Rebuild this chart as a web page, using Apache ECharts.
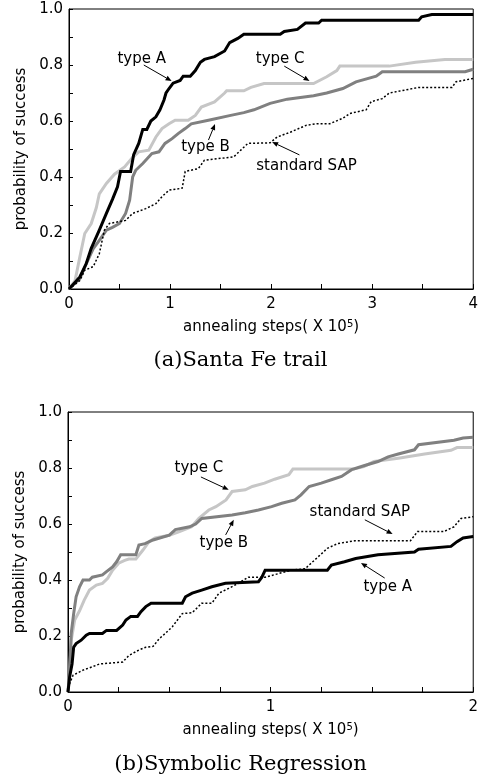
<!DOCTYPE html>
<html><head><meta charset="utf-8">
<script src="https://cdn.jsdelivr.net/npm/echarts@6/dist/echarts.min.js"></script>
<style>html,body{margin:0;padding:0;background:#fff}#c{width:481px;height:780px}</style>
</head><body><div id="c"></div>
<script>
// ---------- (a) Santa Fe trail ----------
const santaTypeA = [[0,0],[0.05,0.02],[0.107,0.043],[0.17,0.09],[0.22,0.145],[0.30,0.21],[0.37,0.27],[0.43,0.32],[0.48,0.365],[0.51,0.42],[0.61,0.42],[0.64,0.48],[0.69,0.52],[0.73,0.57],[0.77,0.57],[0.81,0.60],[0.86,0.615],[0.90,0.64],[0.94,0.675],[0.96,0.70],[0.99,0.716],[1.03,0.735],[1.10,0.745],[1.13,0.76],[1.20,0.76],[1.25,0.78],[1.30,0.81],[1.34,0.82],[1.44,0.83],[1.54,0.85],[1.59,0.88],[1.67,0.895],[1.73,0.91],[2.09,0.91],[2.13,0.92],[2.26,0.927],[2.34,0.95],[2.47,0.95],[2.50,0.96],[3.46,0.96],[3.49,0.972],[3.59,0.98],[4,0.98]];
const santaTypeB = [[0,0],[0.107,0.037],[0.17,0.09],[0.24,0.144],[0.30,0.174],[0.37,0.21],[0.43,0.22],[0.50,0.234],[0.56,0.27],[0.60,0.317],[0.63,0.40],[0.66,0.424],[0.73,0.448],[0.82,0.484],[0.89,0.49],[0.95,0.52],[1.02,0.537],[1.08,0.555],[1.15,0.573],[1.21,0.59],[1.38,0.603],[1.60,0.62],[1.73,0.63],[1.83,0.64],[1.99,0.663],[2.16,0.678],[2.42,0.69],[2.55,0.70],[2.71,0.716],[2.84,0.74],[3.04,0.76],[3.10,0.776],[3.92,0.776],[4,0.785]];
const santaTypeC = [[0,0],[0.06,0.03],[0.107,0.114],[0.156,0.198],[0.22,0.234],[0.27,0.29],[0.30,0.34],[0.37,0.377],[0.45,0.41],[0.55,0.436],[0.63,0.47],[0.69,0.49],[0.79,0.496],[0.86,0.543],[0.92,0.573],[0.99,0.59],[1.05,0.603],[1.18,0.603],[1.25,0.62],[1.31,0.65],[1.44,0.668],[1.54,0.70],[1.56,0.708],[1.73,0.708],[1.80,0.72],[1.93,0.734],[2.42,0.734],[2.55,0.758],[2.65,0.78],[2.68,0.796],[3.17,0.796],[3.43,0.81],[3.72,0.82],[4,0.82]];
const santaSAP = [[0,0],[0.107,0.03],[0.156,0.067],[0.24,0.08],[0.30,0.126],[0.35,0.21],[0.40,0.234],[0.56,0.245],[0.63,0.27],[0.76,0.287],[0.86,0.305],[0.92,0.33],[0.99,0.353],[1.12,0.36],[1.15,0.42],[1.28,0.43],[1.34,0.46],[1.63,0.472],[1.70,0.496],[1.77,0.52],[1.99,0.522],[2.06,0.543],[2.19,0.56],[2.35,0.585],[2.45,0.59],[2.58,0.59],[2.71,0.61],[2.78,0.627],[2.94,0.64],[2.99,0.669],[3.10,0.68],[3.17,0.70],[3.36,0.713],[3.46,0.72],[3.79,0.72],[3.83,0.74],[4,0.752]];

// ---------- (b) Symbolic Regression ----------
const symbTypeA = [[0,0],[0.008,0.054],[0.02,0.10],[0.028,0.16],[0.04,0.173],[0.065,0.185],[0.09,0.203],[0.106,0.209],[0.17,0.209],[0.19,0.22],[0.24,0.22],[0.27,0.239],[0.286,0.257],[0.31,0.27],[0.343,0.27],[0.36,0.287],[0.384,0.305],[0.41,0.317],[0.564,0.317],[0.58,0.34],[0.613,0.353],[0.66,0.364],[0.71,0.376],[0.777,0.388],[0.94,0.394],[0.957,0.41],[0.973,0.435],[1.28,0.435],[1.30,0.453],[1.365,0.465],[1.42,0.477],[1.53,0.49],[1.71,0.50],[1.73,0.51],[1.89,0.52],[1.92,0.537],[1.95,0.55],[2,0.555]];
const symbTypeB = [[0,0],[0.008,0.078],[0.016,0.21],[0.028,0.28],[0.04,0.34],[0.057,0.376],[0.074,0.40],[0.106,0.40],[0.12,0.41],[0.17,0.418],[0.19,0.43],[0.22,0.447],[0.24,0.465],[0.26,0.49],[0.335,0.49],[0.35,0.525],[0.38,0.53],[0.42,0.543],[0.50,0.56],[0.53,0.58],[0.60,0.59],[0.63,0.60],[0.66,0.62],[0.81,0.632],[0.875,0.64],[0.94,0.65],[1.005,0.662],[1.055,0.674],[1.12,0.686],[1.15,0.704],[1.19,0.734],[1.25,0.746],[1.30,0.758],[1.35,0.77],[1.40,0.794],[1.46,0.808],[1.53,0.823],[1.58,0.84],[1.63,0.85],[1.71,0.865],[1.73,0.883],[1.905,0.899],[1.95,0.907],[2,0.91]];
const symbTypeC = [[0,0],[0.008,0.066],[0.016,0.185],[0.033,0.257],[0.057,0.29],[0.08,0.328],[0.106,0.364],[0.14,0.382],[0.17,0.388],[0.196,0.406],[0.22,0.435],[0.25,0.46],[0.28,0.47],[0.30,0.475],[0.335,0.475],[0.37,0.507],[0.40,0.537],[0.43,0.55],[0.50,0.56],[0.55,0.573],[0.61,0.59],[0.646,0.62],[0.695,0.65],[0.73,0.662],[0.78,0.686],[0.81,0.716],[0.875,0.722],[0.91,0.734],[0.97,0.746],[1.02,0.76],[1.09,0.776],[1.11,0.796],[1.41,0.796],[1.46,0.805],[1.51,0.823],[1.63,0.835],[1.76,0.85],[1.89,0.863],[1.92,0.873],[2,0.873]];
const symbSAP = [[0,0],[0.008,0.03],[0.025,0.06],[0.074,0.078],[0.12,0.09],[0.155,0.10],[0.27,0.107],[0.30,0.13],[0.35,0.15],[0.384,0.16],[0.42,0.163],[0.45,0.19],[0.48,0.209],[0.515,0.233],[0.564,0.28],[0.613,0.283],[0.66,0.317],[0.71,0.317],[0.745,0.353],[0.793,0.37],[0.84,0.388],[0.89,0.41],[0.973,0.41],[1.04,0.423],[1.10,0.435],[1.17,0.44],[1.20,0.46],[1.235,0.483],[1.28,0.513],[1.33,0.53],[1.415,0.54],[1.69,0.54],[1.725,0.573],[1.855,0.573],[1.905,0.59],[1.94,0.62],[2,0.626]];

const captions = ['(a)Santa Fe trail', '(b)Symbolic Regression'];
const yAxisName = 'probability of success';
const xAxisName = 'annealing steps( X 10{sup|5})';

// annotations: [gridIndex, label, textX, textY, arrowFromX, arrowFromY, arrowToX, arrowToY] in data units
const annotations = [
  [0, 'type A', 0.72, 0.82, 0.74, 0.80, 1.015, 0.743],
  [0, 'type C', 2.09, 0.82, 2.13, 0.796, 2.38, 0.743],
  [0, 'type B', 1.35, 0.507, 1.38, 0.532, 1.445, 0.589],
  [0, 'standard SAP', 2.35, 0.44, 2.28, 0.479, 2.01, 0.525],
  [1, 'type C', 0.646, 0.80, 0.656, 0.768, 0.793, 0.722],
  [1, 'type B', 0.769, 0.532, 0.778, 0.561, 0.818, 0.615],
  [1, 'standard SAP', 1.44, 0.643, 1.465, 0.615, 1.602, 0.564],
  [1, 'type A', 1.578, 0.375, 1.563, 0.407, 1.446, 0.461]
];

const FONT = 'DejaVu Sans';
const chart = echarts.init(document.getElementById('c'), null, {renderer: 'canvas'});

function xAxis(idx, max, minorSplit) {
  return {
    type: 'value', gridIndex: idx, min: 0, max: max, interval: 1,
    axisLine: {show: true, lineStyle: {color: '#000', width: 1}},
    axisTick: {show: true, inside: true, length: 5, lineStyle: {color: '#000'}},
    minorTick: {show: true, splitNumber: minorSplit, length: 5, lineStyle: {color: '#000'}},
    splitLine: {show: false},
    axisLabel: {color: '#000', fontFamily: FONT, fontSize: 15, margin: 8},
    name: xAxisName, nameLocation: 'middle', nameGap: 30,
    nameTextStyle: {color: '#000', fontFamily: FONT, fontSize: 15,
      rich: {sup: {fontSize: 10, fontFamily: FONT, color: '#000', verticalAlign: 'top', padding: [0, 0, 6, 0]}}}
  };
}
function yAxis(idx) {
  return {
    type: 'value', gridIndex: idx, min: 0, max: 1, interval: 0.2,
    axisLine: {show: true, lineStyle: {color: '#000', width: 1}},
    axisTick: {show: true, inside: true, length: 4, lineStyle: {color: '#000'}},
    minorTick: {show: true, splitNumber: 2, length: 4, lineStyle: {color: '#000'}},
    splitLine: {show: false},
    axisLabel: {color: '#000', fontFamily: FONT, fontSize: 15, margin: 6, formatter: v => v.toFixed(1)},
    name: yAxisName, nameLocation: 'middle', nameGap: 36,
    nameTextStyle: {color: '#000', fontFamily: FONT, fontSize: 15}
  };
}
function line(idx, data, color, width, dash) {
  return {
    type: 'line', xAxisIndex: idx, yAxisIndex: idx, data: data,
    showSymbol: false, symbol: 'none', animation: false, silent: true,
    lineStyle: {color: color, width: width, type: dash || 'solid', join: 'miter'}
  };
}

chart.setOption({
  animation: false,
  backgroundColor: '#fff',
  title: [
    {text: captions[0], left: 'center', top: 350, padding: 0,
     textStyle: {fontFamily: 'DejaVu Serif', fontSize: 21, fontWeight: 'normal', color: '#000'}},
    {text: captions[1], left: 'center', top: 754, padding: 0,
     textStyle: {fontFamily: 'DejaVu Serif', fontSize: 21, fontWeight: 'normal', color: '#000'}}
  ],
  grid: [
    {left: 69, top: 9, width: 410, height: 280, show: true, borderColor: '#000', borderWidth: 1, backgroundColor: 'transparent'},
    {left: 68, top: 412, width: 408, height: 280, show: true, borderColor: '#000', borderWidth: 1, backgroundColor: 'transparent'}
  ],
  xAxis: [xAxis(0, 4, 2), xAxis(1, 2, 4)],
  yAxis: [yAxis(0), yAxis(1)],
  series: [
    line(0, santaTypeC, '#c6c6c6', 3),
    line(0, santaTypeB, '#808080', 3),
    line(0, santaSAP, '#000', 1.5, [2, 2]),
    line(0, santaTypeA, '#000', 3),
    line(1, symbTypeC, '#c6c6c6', 3),
    line(1, symbTypeB, '#808080', 3),
    line(1, symbSAP, '#000', 1.5, [2, 2]),
    line(1, symbTypeA, '#000', 3)
  ]
});

// annotations (text + arrows) placed through the axes' own scales
const elements = [];
annotations.forEach(a => {
  const g = {gridIndex: a[0]};
  const t = chart.convertToPixel(g, [a[2], a[3]]);
  const p0 = chart.convertToPixel(g, [a[4], a[5]]);
  const p1 = chart.convertToPixel(g, [a[6], a[7]]);
  elements.push({type: 'text', x: t[0], y: t[1], silent: true,
    style: {text: a[1], fill: '#000', font: '15px ' + FONT, align: 'center', verticalAlign: 'middle'}});
  const dx = p1[0] - p0[0], dy = p1[1] - p0[1];
  const len = Math.sqrt(dx * dx + dy * dy);
  const ux = dx / len, uy = dy / len;
  const hl = 6, hw = 2.5;
  const bx = p1[0] - ux * hl, by = p1[1] - uy * hl;
  elements.push({type: 'line', silent: true,
    shape: {x1: p0[0], y1: p0[1], x2: bx, y2: by}, style: {stroke: '#000', lineWidth: 1}});
  elements.push({type: 'polygon', silent: true,
    shape: {points: [[p1[0], p1[1]], [bx - uy * hw, by + ux * hw], [bx + uy * hw, by - ux * hw]]},
    style: {fill: '#000'}});
});
chart.setOption({graphic: elements});
</script>
</body></html>
